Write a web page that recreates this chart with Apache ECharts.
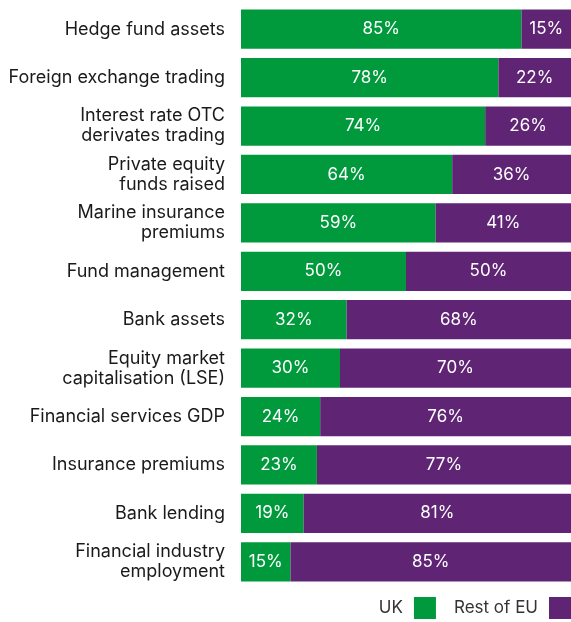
<!DOCTYPE html>
<html>
<head>
<meta charset="utf-8">
<script src="https://cdn.jsdelivr.net/npm/echarts@6/dist/echarts.min.js"></script>
<style>
  html, body { margin: 0; padding: 0; background: #fff; }
  #chart { width: 571px; height: 622px; }
</style>
</head>
<body>
<div id="chart"></div>
<script>
// categories top to bottom
const categories = [
  'Hedge fund assets',
  'Foreign exchange trading',
  'Interest rate OTC\nderivates trading',
  'Private equity\nfunds raised',
  'Marine insurance\npremiums',
  'Fund management',
  'Bank assets',
  'Equity market\ncapitalisation (LSE)',
  'Financial services GDP',
  'Insurance premiums',
  'Bank lending',
  'Financial industry\nemployment'
]
const ukShare = [85, 78, 74, 64, 59, 50, 32, 30, 24, 23, 19, 15]
const restOfEuShare = [15, 22, 26, 36, 41, 50, 68, 70, 76, 77, 81, 85]

const GREEN = '#009a3d'
const PURPLE = '#5f2474'
const FONT = 'Inter'

const chart = echarts.init(document.getElementById('chart'))

const barLabel = {
  show: true,
  position: 'inside',
  color: '#fff',
  fontFamily: FONT,
  fontSize: 17,
  formatter: p => p.value + '%'
}

chart.setOption({
  animation: false,
  textStyle: { fontFamily: FONT },
  grid: { left: 241, right: 0, top: 5, bottom: 36 },
  xAxis: { type: 'value', min: 0, max: 100, show: false },
  yAxis: {
    type: 'category',
    data: categories,
    inverse: true,
    axisLine: { show: false },
    axisTick: { show: false },
    axisLabel: {
      color: '#1a1a1a',
      fontSize: 18,
      fontFamily: FONT,
      lineHeight: 20,
      margin: 16,
      align: 'right'
    }
  },
  legend: {
    right: 0,
    bottom: 3,
    padding: 0,
    align: 'right',
    itemWidth: 22,
    itemHeight: 22,
    itemGap: 18,
    icon: 'rect',
    textStyle: { fontSize: 17, color: '#333', fontFamily: FONT, padding: [0, 6, 0, 0] },
    data: ['UK', 'Rest of EU']
  },
  series: [
    {
      name: 'UK',
      type: 'bar',
      stack: 'total',
      data: ukShare,
      barCategoryGap: '19%',
      itemStyle: { color: GREEN },
      label: barLabel
    },
    {
      name: 'Rest of EU',
      type: 'bar',
      stack: 'total',
      data: restOfEuShare,
      itemStyle: { color: PURPLE },
      label: barLabel
    }
  ]
})
</script>
</body>
</html>
